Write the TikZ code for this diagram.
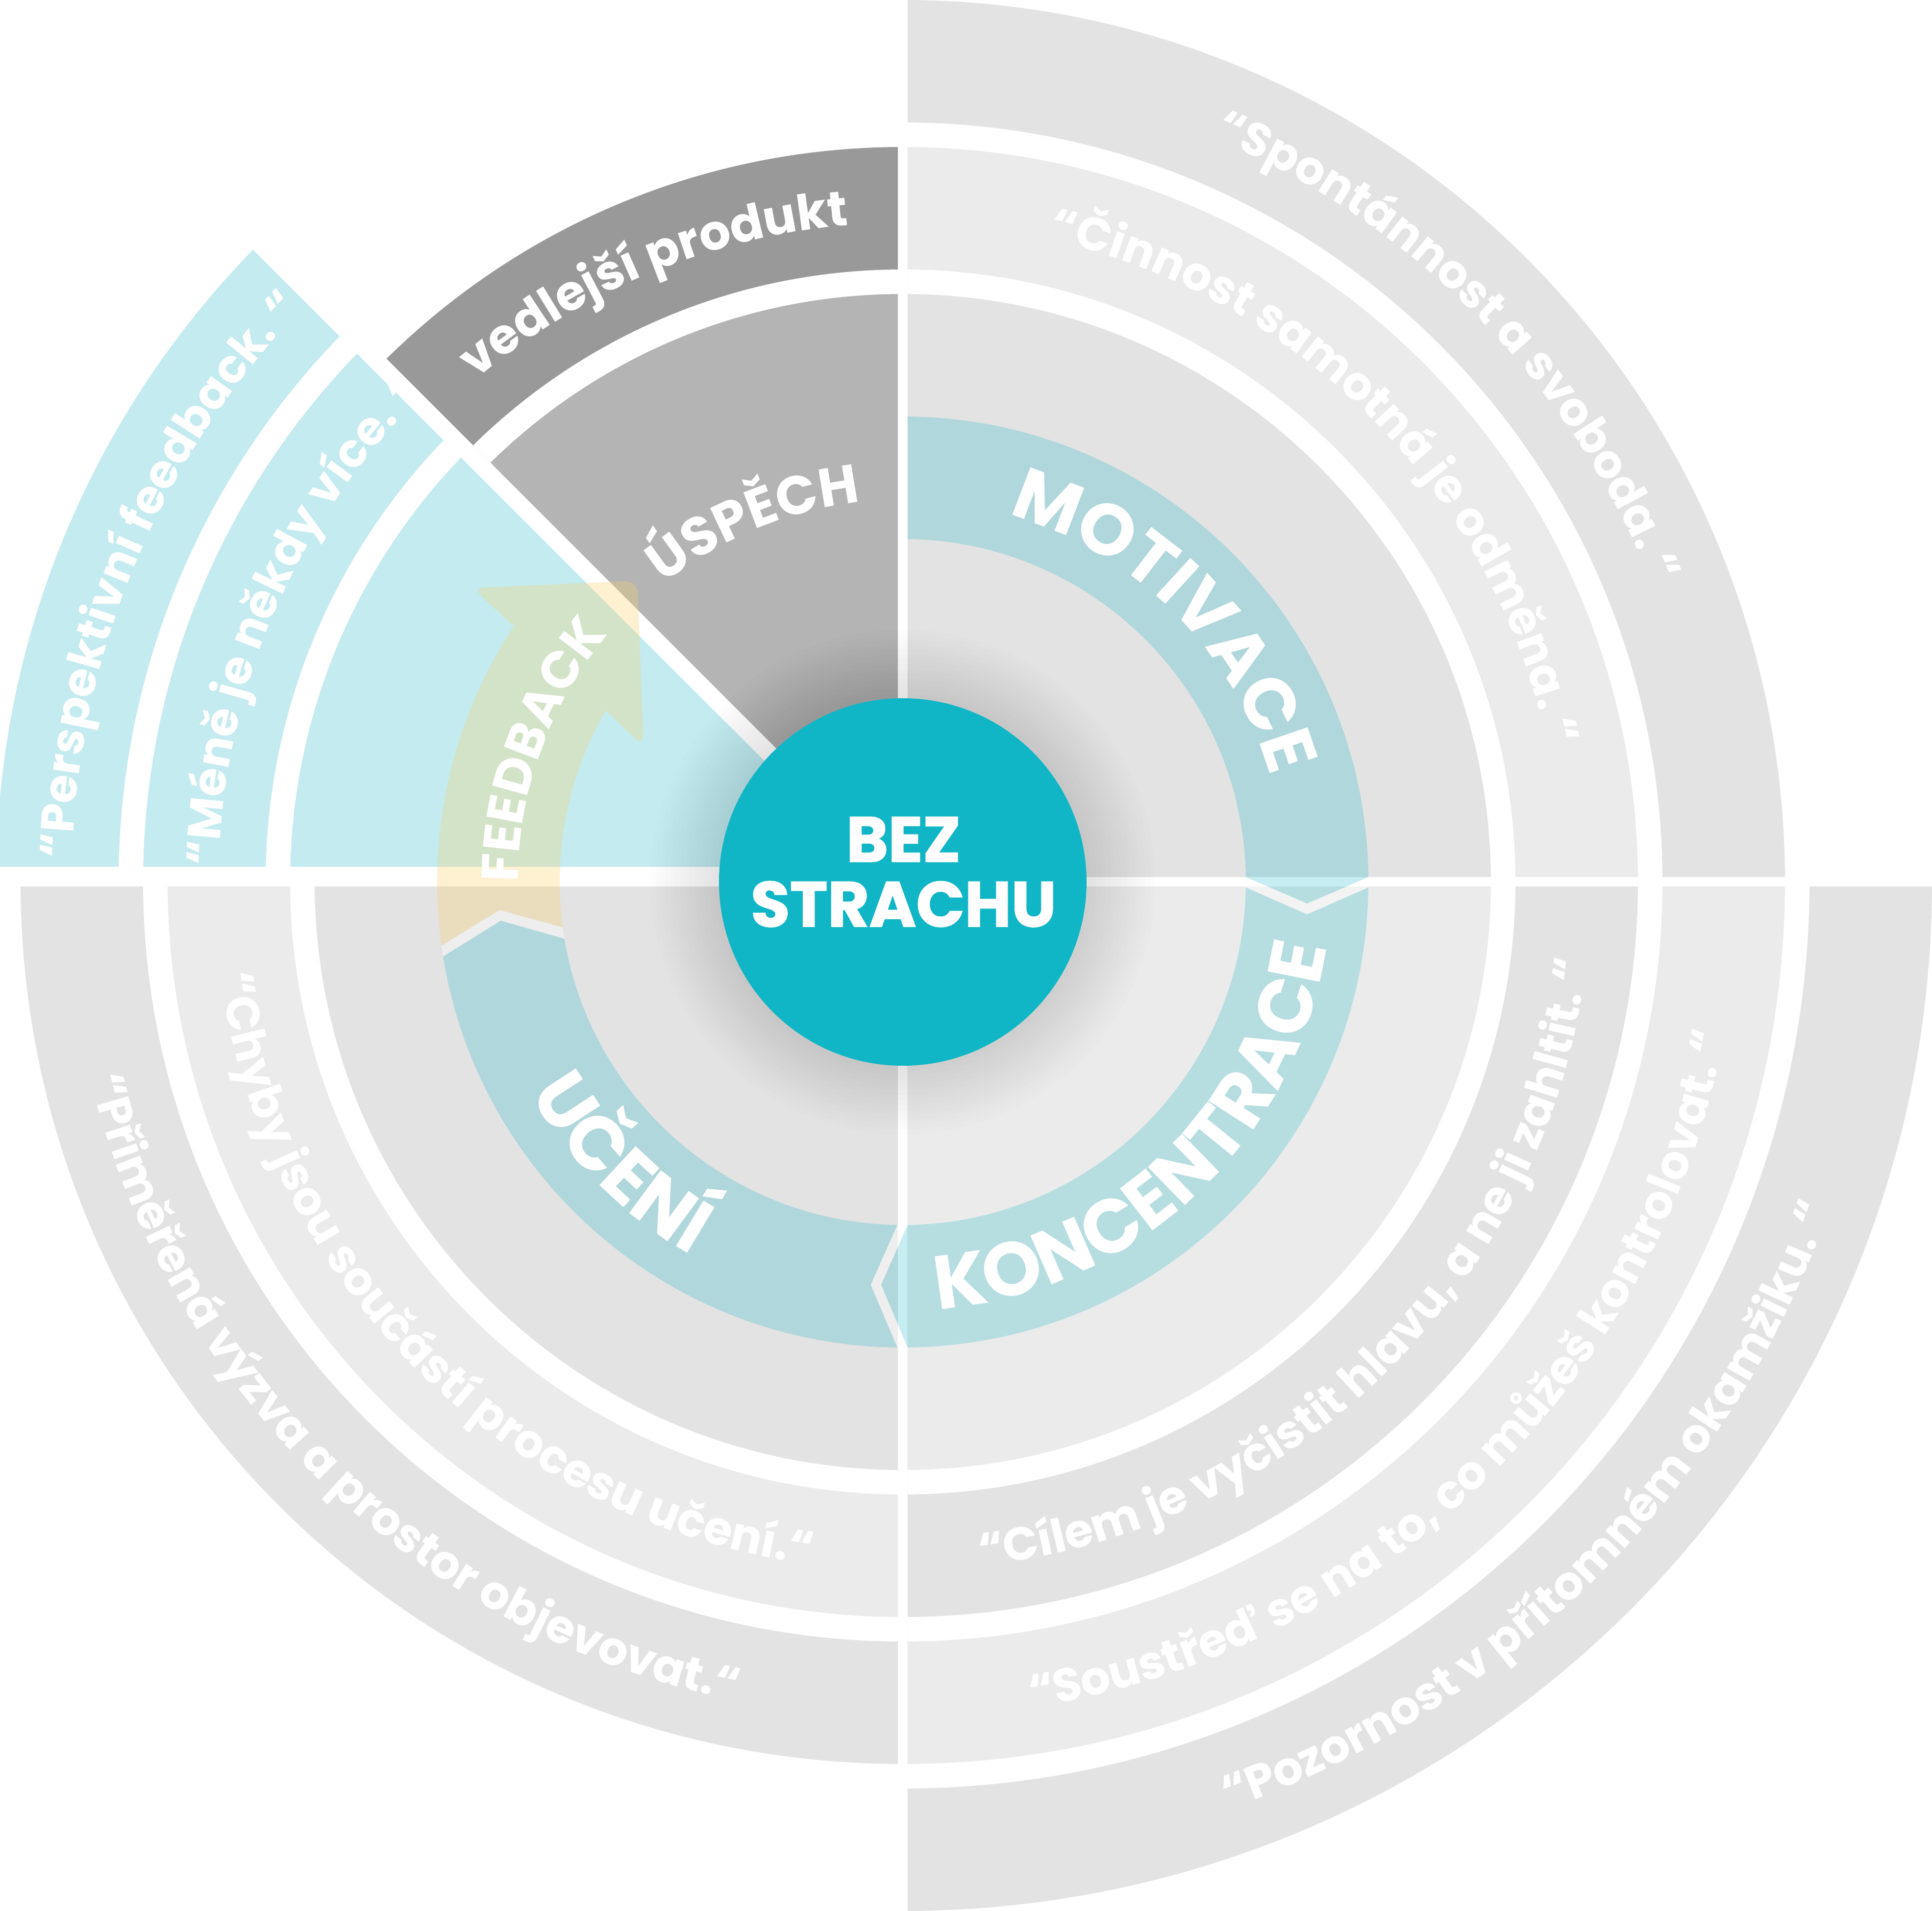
\documentclass[tikz,border=0pt]{standalone}
\usepackage{fontspec}
\newfontfamily\pop{Poppins}
\newfontfamily\popx{Poppins}[BoldFeatures={FakeBold=1.5}]
\usetikzlibrary{decorations.text}
\definecolor{gA}{RGB}{227,227,227}
\definecolor{gB}{RGB}{235,235,235}
\definecolor{gDark}{RGB}{153,153,153}
\definecolor{gMid}{RGB}{180,180,180}
\definecolor{cyanL}{RGB}{196,235,239}
\definecolor{mteal}{RGB}{17,181,197}
\definecolor{myel}{RGB}{248,210,107}
\definecolor{corecol}{RGB}{17,182,198}
\newcommand\fq{\pop\bfseries\fontsize{27}{30}\selectfont\color{white}}
\newcommand\fbig{\pop\bfseries\fontsize{44}{48}\selectfont\color{white}}
\newcommand\fmot{\pop\bfseries\fontsize{42}{46}\selectfont\color{white}}
\newcommand\fmid{\pop\bfseries\fontsize{31.5}{34}\selectfont\color{white}}
\newcommand\ffb{\pop\bfseries\fontsize{30}{33}\selectfont\color{white}}
\newcommand\fvp{\pop\bfseries\fontsize{28.5}{31}\selectfont\color{white}}
% clockwise arc text (tops outward): radius, centre angle, half span, font, text
\newcommand\cwtext[5]{\path[decorate,decoration={text along path,text align=center,text={|#4|#5}}]
  ({#2+#3}:#1) arc[start angle={#2+#3}, end angle={#2-#3}, radius=#1];}
% counter-clockwise arc text (tops inward)
\newcommand\ccwtext[5]{\path[decorate,decoration={text along path,text align=center,text={|#4|#5}}]
  ({#2-#3}:#1) arc[start angle={#2-#3}, end angle={#2+#3}, radius=#1];}
\tikzset{
  tealov/.style={fill=mteal, fill opacity=0.24},
  yelov/.style={fill=myel, fill opacity=0.3},
  gapov/.style={fill=white, fill opacity=0.4},
  titletext/.style={anchor=base, text=white, font=\popx\bfseries\fontsize{37}{40}\selectfont, inner sep=0pt},
}
\begin{document}
\begin{tikzpicture}
\useasboundingbox (-18.42,-21) rectangle (21,18);
% ---------- top-right quadrant
\begin{scope}
  \clip (0.1,0.1) rectangle (21,18);
  \fill[gA] (0,0) circle (18);
  \fill[white] (0,0) circle (15.5);
  \fill[gB] (0,0) circle (15);
  \fill[white] (0,0) circle (12.5);
  \fill[gA] (0,0) circle (12);
\end{scope}
% ---------- bottom-right quadrant
\begin{scope}
  \clip (0.1,-0.1) rectangle (21,-21);
  \fill[gA] (0,0) circle (21);
  \fill[white] (0,0) circle (18.5);
  \fill[gB] (0,0) circle (18);
  \fill[white] (0,0) circle (15.5);
  \fill[gA] (0,0) circle (15);
  \fill[white] (0,0) circle (12.5);
  \fill[gB] (0,0) circle (12);
\end{scope}
% ---------- bottom-left quadrant
\begin{scope}
  \clip (-0.1,-0.1) rectangle (-18.42,-21);
  \fill[gA] (0,0) circle (18);
  \fill[white] (0,0) circle (15.5);
  \fill[gB] (0,0) circle (15);
  \fill[white] (0,0) circle (12.5);
  \fill[gA] (0,0) circle (12);
\end{scope}
% ---------- top-left, grey sector
\begin{scope}
  \clip (-0.1,0.247) -- (-0.1,18) -- (-17.853,18) -- cycle;
  \fill[gDark] (0,0) circle (15);
  \fill[white] (0,0) circle (12.5);
  \fill[gMid] (0,0) circle (12);
\end{scope}
% ---------- top-left, cyan sector
\begin{scope}
  \clip (-0.663,0.31) -- (-18.42,0.31) -- (-18.42,18.067) -- cycle;
  \fill[cyanL] (0,0) circle (18.5);
  \fill[white] (0,0) circle (16);
  \fill[cyanL] (0,0) circle (15.5);
  \fill[white] (0,0) circle (13);
  \fill[cyanL] (0,0) circle (12.5);
\end{scope}
% ---------- teal ring segments
\begin{scope}
  \clip (0.1,12) -- (12,12) -- (12,0.1) -- (9.5,0.1) -- (8.25,-0.44) -- (7,0.1) -- (0.1,0.1) -- cycle;
  \fill[tealov, even odd rule] (0,0) circle (9.5) (0,0) circle (7);
\end{scope}
\begin{scope}
  \clip (12,-0.11) -- (9.5,-0.11) -- (8.25,-0.66) -- (7,-0.11) -- (0.1,-7) -- (-0.443,-8.22) -- (0.1,-9.5) -- (0.1,-12) -- (12,-12) -- cycle;
  \fill[tealov, even odd rule] (0,0) circle (9.5) (0,0) circle (7);
\end{scope}
\begin{scope}
  \clip (-0.11,-12) -- (-0.11,-9.5) -- (-0.653,-8.22) -- (-0.11,-7) -- (-6.903,-1.157) -- (-8.203,-0.79) -- (-9.377,-1.517) -- (-12,-1.9) -- (-12,-12) -- cycle;
  \fill[tealov, even odd rule] (0,0) circle (9.5) (0,0) circle (7);
\end{scope}
% chevron gaps
\fill[gapov] (7,0.1) -- (8.25,-0.44) -- (9.5,0.1) -- (9.5,-0.11) -- (8.25,-0.66) -- (7,-0.11) -- cycle;
\fill[gapov] (0.1,-7) -- (-0.443,-8.22) -- (0.1,-9.5) -- (-0.11,-9.5) -- (-0.653,-8.22) -- (-0.11,-7) -- cycle;
\fill[gapov] (187.6:7) -- (-8.23,-0.573) -- (187.86:9.5) -- (-9.377,-1.517) -- (-8.203,-0.79) -- (-6.903,-1.157) -- cycle;
% ---------- feedback arrow
\fill[yelov] (187.86:9.5) arc[start angle=187.86, end angle=146.65, radius=9.5]
  [rounded corners=0.25cm] -- (-8.78,6.00) -- (-5.414,6.149) -- (-5.29,2.76) [sharp corners] -- (150:7)
  arc[start angle=150, end angle=187.6, radius=7] -- (-8.23,-0.573) -- cycle;
% ---------- shadow and core
\foreach \k in {1,...,14} \fill[black, fill opacity=0.0065] (0,0) circle ({3.75+0.1*\k});
\node[circle, fill=corecol, minimum size=7.5cm, inner sep=0pt] (core) at (0,0) {};
\node[titletext] (bez) at (0.015,0.413) {BEZ};
\node[titletext] (strachu) at (0.015,-0.91) {STRACHU};
% ---------- texts
\cwtext{16.45}{44.5}{45}{\fq}{“Spontánnost a svoboda. “}
\cwtext{13.45}{44.6}{45}{\fq}{“Činnost samotná je odměna. “}
\ccwtext{14.05}{-45}{45}{\fq}{“Cílem je vyčistit hlavu, a ne ji zahltit. “}
\ccwtext{17.05}{-45.8}{45}{\fq}{“Soustřeď se na to, co můžeš kontrolovat. “}
\ccwtext{20.05}{-45}{45}{\fq}{“Pozornost v přítomném okamžiku. “}
\ccwtext{14.05}{225}{45}{\fq}{“Chyby jsou součástí procesu učení.“}
\ccwtext{17.05}{226}{45}{\fq}{“Přiměřená výzva a prostor objevovat.“}
\cwtext{16.95}{157.4}{45}{\fq}{“Perspektivní feedback. “}
\cwtext{13.95}{156.6}{45}{\fq}{“Méně je někdy více. “}
\cwtext{13.45}{112.5}{45}{\fvp}{vedlejší produkt}
\cwtext{7.8}{112.5}{40}{\fmid}{ÚSPĚCH}
\cwtext{7.8}{45}{44}{\fmot}{MOTIVACE}
\ccwtext{8.75}{-47}{44}{\fbig}{KONCENTRACE}
\ccwtext{8.75}{225}{44}{\fbig}{UČENÍ}
\cwtext{7.85}{160}{40}{\ffb}{FEEDBACK}
\end{tikzpicture}
\end{document}
